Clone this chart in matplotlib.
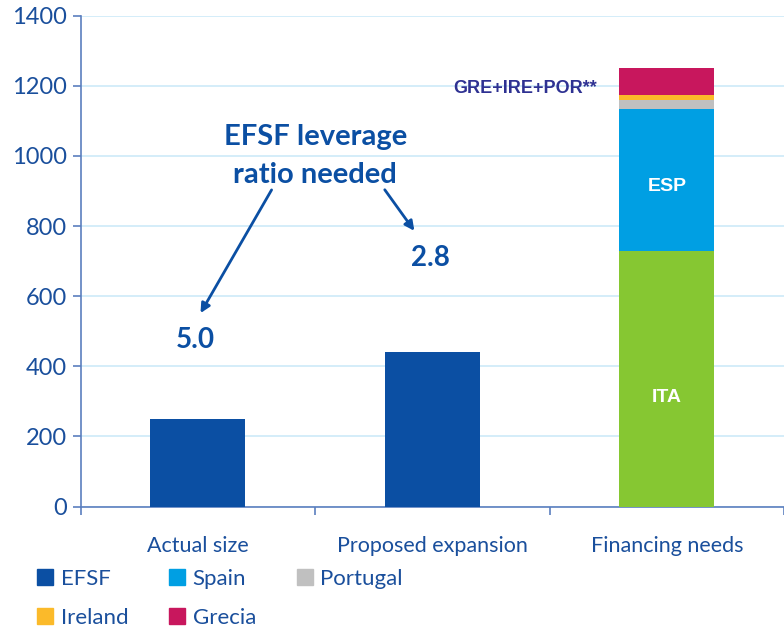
import matplotlib.pyplot as plt
import numpy as np
from matplotlib.patches import Patch

plt.rcParams['font.family'] = ['Lato', 'DejaVu Sans']

categories = ['Actual size', 'Proposed expansion', 'Financing needs']
efsf = [250, 440, 0]
italy = [0, 0, 730]
spain = [0, 0, 405]
portugal = [0, 0, 25]
ireland = [0, 0, 15]
grecia = [0, 0, 77]
leverage = ['5.0', '2.8']

c_efsf = '#0b4fa3'
c_ita = '#86c732'
c_esp = '#009fe3'
c_por = '#c0c0c0'
c_ire = '#fbba2a'
c_gre = '#c8175d'
c_axis = '#5b7fbf'
c_text = '#1a4f9c'

fig = plt.figure(figsize=(7.84, 6.27), dpi=100)
ax = fig.add_axes([0.103, 0.192, 0.897, 0.783])

x = np.arange(len(categories))
w = 0.405
ax.bar(x, efsf, w, color=c_efsf, zorder=3)
bottom = np.array(efsf, dtype=float)
for vals, col in [(italy, c_ita), (spain, c_esp), (portugal, c_por),
                  (ireland, c_ire), (grecia, c_gre)]:
    ax.bar(x, vals, w, bottom=bottom, color=col, zorder=3)
    bottom += np.array(vals)

ax.set_xlim(-0.5, 2.5)
ax.set_ylim(0, 1400)
ax.set_yticks(range(0, 1401, 200))
ax.yaxis.grid(True, color='#cdeaf8', linewidth=1.2, zorder=0)
ax.set_axisbelow(True)

for s in ['top', 'right']:
    ax.spines[s].set_visible(False)
for s in ['left', 'bottom']:
    ax.spines[s].set_color(c_axis)
    ax.spines[s].set_linewidth(1.2)

ax.tick_params(axis='y', color=c_axis, length=6, width=1.2, pad=4)
ax.tick_params(axis='y', labelcolor=c_text, labelsize=17)
ax.set_xticks([-0.5, 0.5, 1.5, 2.5])
ax.set_xticklabels([])
ax.tick_params(axis='x', color=c_axis, length=6, width=1.2)
for i, lab in enumerate(categories):
    ax.text(i, -0.08, lab, transform=ax.get_xaxis_transform(), ha='center',
            va='center', fontsize=15.5, color=c_text)

# labels inside the stacked bar
ax.text(2, 310, 'ITA', ha='center', va='center', color='white',
        fontsize=14, fontweight='bold', zorder=4, family='Liberation Sans')
ax.text(2, 913, 'ESP', ha='center', va='center',
        color='white', fontsize=14, fontweight='bold', zorder=4,
        family='Liberation Sans')
ax.text(1.395, 1192, 'GRE+IRE+POR**', ha='center', va='center', color='#2e3192',
        fontsize=13, fontweight='bold', family='Liberation Sans')

# leverage annotation
ax.text(0.5, 1000, 'EFSF leverage\nratio needed', ha='center', va='center',
        color=c_efsf, fontsize=21, fontweight='bold', linespacing=1.55)
ax.text(-0.01, 475, leverage[0], ha='center', va='center', color=c_efsf,
        fontsize=20, fontweight='bold')
ax.text(0.99, 708, leverage[1], ha='center', va='center', color=c_efsf,
        fontsize=20, fontweight='bold')
ax.annotate('', xy=(0.005, 545), xytext=(0.32, 910),
            arrowprops=dict(arrowstyle='-|>', color=c_efsf, lw=2,
                            mutation_scale=14))
ax.annotate('', xy=(0.93, 780), xytext=(0.79, 910),
            arrowprops=dict(arrowstyle='-|>', color=c_efsf, lw=2,
                            mutation_scale=14))

handles = [Patch(color=c_efsf, label='EFSF'), Patch(color=c_ire, label='Ireland'),
           Patch(color=c_esp, label='Spain'), Patch(color=c_gre, label='Grecia'),
           Patch(color=c_por, label='Portugal')]
leg = fig.legend(handles=handles, ncol=3, loc='lower left',
                 bbox_to_anchor=(0.022, -0.033), frameon=False, fontsize=16,
                 handlelength=0.7, handleheight=0.7, handletextpad=0.35,
                 columnspacing=1.85, labelspacing=0.85)
for t in leg.get_texts():
    t.set_color(c_text)

fig.savefig('out.png', dpi=100)
